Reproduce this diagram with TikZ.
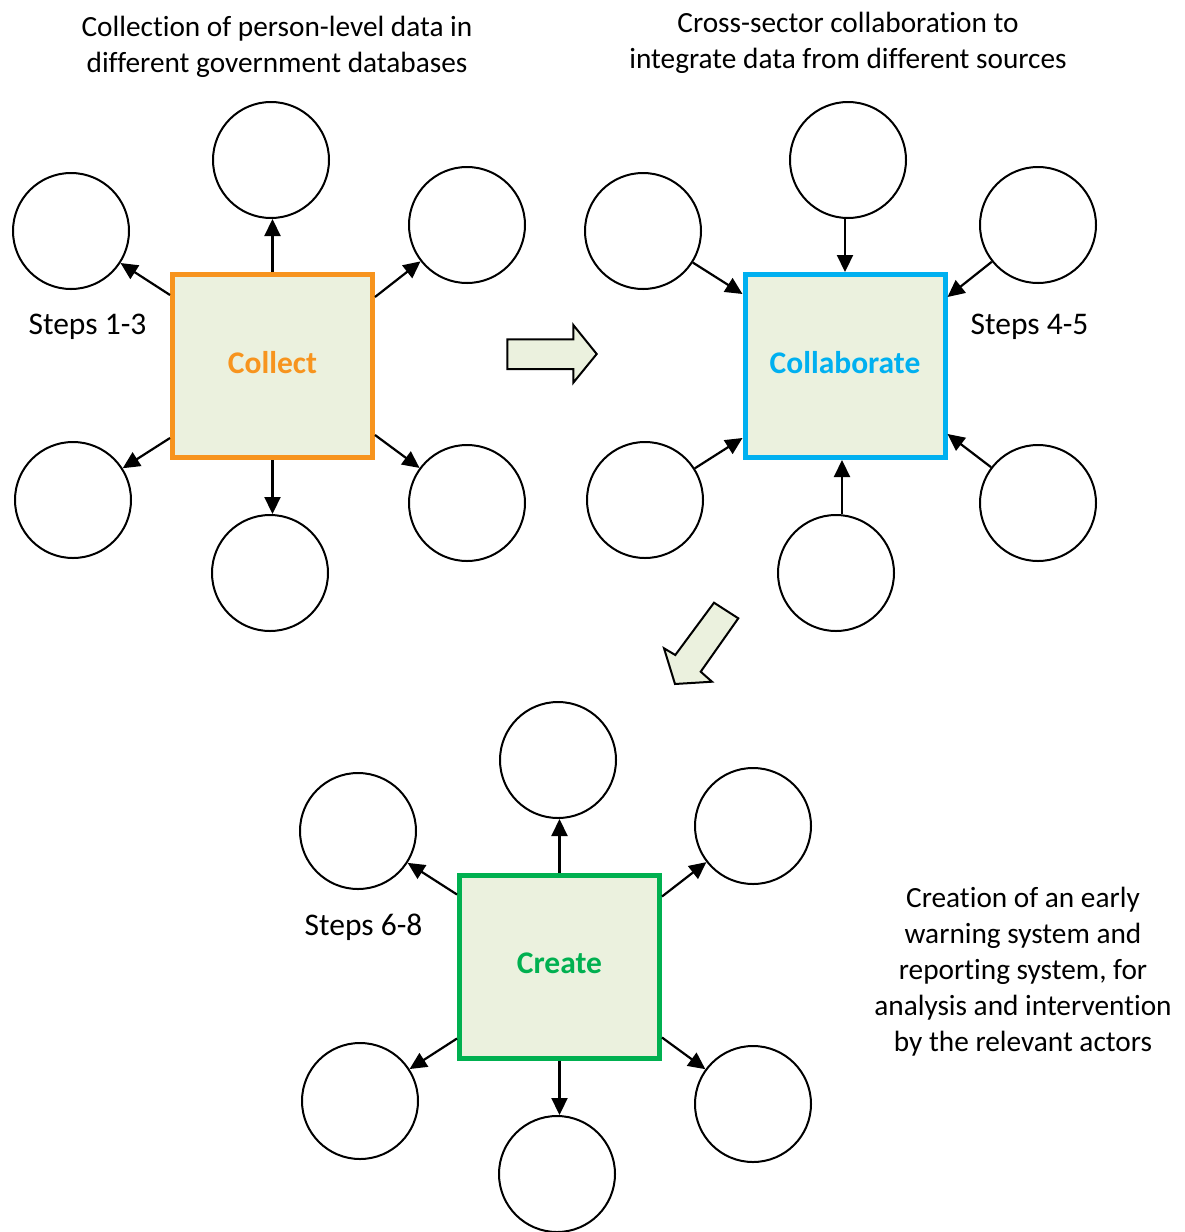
\documentclass[tikz,border=0pt]{standalone}
\usepackage{fontspec}
\setmainfont{Carlito}[Ligatures=NoCommon]
\usetikzlibrary{arrows.meta}
\definecolor{boxfill}{HTML}{EBF1DE}
\definecolor{corange}{HTML}{F7941E}
\definecolor{cblue}{HTML}{00B0F0}
\definecolor{cgreen}{HTML}{00B050}
\begin{document}
\begin{tikzpicture}[x=1pt,y=-1pt,
  bubble/.style={circle,draw,line width=2pt,minimum size=116pt,inner sep=0pt},
  stage/.style={draw=#1,line width=5pt,fill=boxfill,minimum width=200pt,minimum height=183pt,inner sep=0pt,text=#1,font=\fontsize{31.5}{38}\selectfont\bfseries,text height=14.6pt,text depth=0pt},
  link/.style={line width=2.2pt,-{Triangle[length=17pt,width=16pt]}},
  desc/.style={align=center,font=\fontsize{29.3}{36}\selectfont,inner sep=0pt},
  steps/.style={font=\fontsize{31.5}{38}\selectfont,inner sep=0pt,anchor=base},
  blockarrow/.style={draw,line width=2pt,fill=boxfill,line join=miter}
]
\useasboundingbox (0,0) rectangle (1184,1232);

% Collect
\node[stage=corange] (collect) at (272.5,366) {Collect};
\node[bubble] (a1) at (271,160) {};
\node[bubble] (a2) at (71,231) {};
\node[bubble] (a3) at (467,225) {};
\node[bubble] (a4) at (73,500) {};
\node[bubble] (a5) at (467,503) {};
\node[bubble] (a6) at (270,573) {};
\draw[link] (collect.north) -- (collect.north |- a1.south);
\draw[link] ([yshift=-23pt]collect.north west) -- (a2);
\draw[link] ([yshift=-25pt]collect.north east) -- (a3);
\draw[link] ([yshift=22pt]collect.south west) -- (a4);
\draw[link] ([yshift=25pt]collect.south east) -- (a5);
\draw[link] (collect.south) -- (collect.south |- a6.north);

% Collaborate
\node[stage=cblue] (collab) at (845,366) {Collaborate};
\node[bubble] (b1) at (848,160) {};
\node[bubble] (b2) at (643,231) {};
\node[bubble] (b3) at (1038,225) {};
\node[bubble] (b4) at (645,500) {};
\node[bubble] (b5) at (1038,503) {};
\node[bubble] (b6) at (836,573) {};
\draw[link] (b1.south -| collab.north) -- (collab.north);
\draw[link] (b2) -- ([yshift=-22pt]collab.north west);
\draw[link] (b3) -- ([yshift=-25pt]collab.north east);
\draw[link] (b4) -- ([yshift=22pt]collab.south west);
\draw[link] (b5) -- ([yshift=26pt]collab.south east);
\draw[link] ([xshift=6pt]b6.north) -- ([xshift=-3pt]collab.south);

% Create
\node[stage=cgreen] (create) at (559.5,966.5) {Create};
\node[bubble] (c1) at (558,760) {};
\node[bubble] (c2) at (358,831) {};
\node[bubble] (c3) at (753,826) {};
\node[bubble] (c4) at (360,1101) {};
\node[bubble] (c5) at (753,1104) {};
\node[bubble] (c6) at (557,1174) {};
\draw[link] (create.north) -- (create.north |- c1.south);
\draw[link] ([yshift=-22pt]create.north west) -- (c2);
\draw[link] ([yshift=-24pt]create.north east) -- (c3);
\draw[link] ([yshift=22pt]create.south west) -- (c4);
\draw[link] ([yshift=23pt]create.south east) -- (c5);
\draw[link] (create.south) -- (create.south |- c6.north);

% Texts
\node[desc] (t1) at (277,46.5) {Collection of person-level data in\\different government databases};
\node[desc] (t2) at (848,43) {Cross-sector collaboration to\\integrate data from different sources};
\node[desc] (t3) at (1023,971.5) {Creation of an early\\warning system and\\reporting system, for\\analysis and intervention\\by the relevant actors};
\node[steps] (s1) at (87.5,334) {Steps 1-3};
\node[steps] (s2) at (1029.5,334) {Steps 4-5};
\node[steps] (s3) at (363.5,935.5) {Steps 6-8};

% Block arrows
\draw[blockarrow] (507.3,339.3) -- (573.3,339.3) -- (573.3,325) -- (596.7,354) -- (573.3,382.7) -- (573.3,369) -- (507.3,369) -- cycle;
\draw[blockarrow] (714,602.7) -- (738.3,618.3) -- (700.7,671.7) -- (712,681.7) -- (675,684) -- (664,648.3) -- (675.3,655) -- cycle;
\end{tikzpicture}
\end{document}
